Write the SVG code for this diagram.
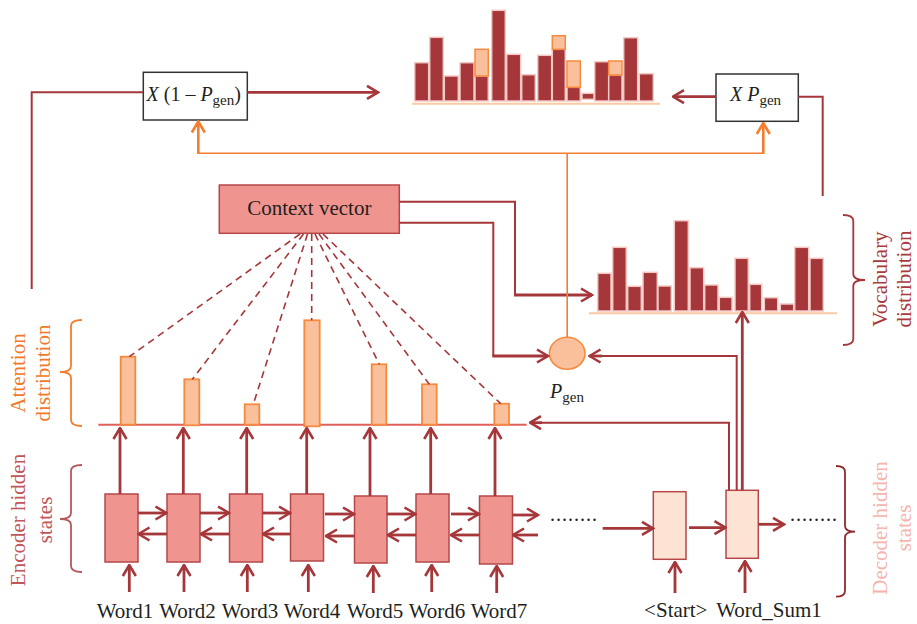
<svg xmlns="http://www.w3.org/2000/svg" width="917" height="624" viewBox="0 0 917 624">
  <defs>
    <style>
      .txt { font-family: "Liberation Serif", "Times New Roman", serif; fill: #231f20; }
      .it { font-style: italic; }
      .bar { fill: #a5363a; stroke: #f4c9c4; stroke-width: 1.5; }
      .hi { fill: #f9c09b; stroke: #f58a3e; stroke-width: 1.5; }
      .att { fill: #f9c09b; stroke: #f58a3e; stroke-width: 1.8; }
      .enc { fill: #f0948f; stroke: #b5474a; stroke-width: 1.5; }
      .dec { fill: #fde3d3; stroke: #b5474a; stroke-width: 1.5; }
      .op { fill: #ffffff; stroke: #333333; stroke-width: 1.5; }
      .red { fill: none; stroke: #a5373a; stroke-width: 2.8; }
      .thin { fill: none; stroke: #a5373a; stroke-width: 2; }
      .org { fill: none; stroke: #f47d30; stroke-width: 2.6; }
      .orgthin { fill: none; stroke: #f47d30; stroke-width: 1.6; }
      .dash { fill: none; stroke: #a5373a; stroke-width: 1.6; stroke-dasharray: 7 5; }
      .brace { fill: none; stroke-width: 1.8; }
    </style>
    <marker id="ar" viewBox="0 0 14 16" refX="12.5" refY="8" markerWidth="14" markerHeight="16" markerUnits="userSpaceOnUse" orient="auto">
      <path d="M1.5,1.5 L12.5,8 L1.5,14.5" fill="none" stroke="#a5373a" stroke-width="2.6"/>
    </marker>
    <marker id="ao" viewBox="0 0 14 16" refX="12.5" refY="8" markerWidth="14" markerHeight="16" markerUnits="userSpaceOnUse" orient="auto">
      <path d="M1.5,1.5 L12.5,8 L1.5,14.5" fill="none" stroke="#f47d30" stroke-width="2.6"/>
    </marker>
  </defs>

  <rect width="917" height="624" fill="#ffffff"/>

  <!-- Final distribution (top) -->
  <g id="final-distribution">
    <line x1="412" y1="103.7" x2="660" y2="103.7" stroke="#fbc9a4" stroke-width="2"/>
    <rect class="bar" x="414.7" y="62.7" width="14" height="38.3"/>
    <rect class="bar" x="429.7" y="37.3" width="13.6" height="63.7"/>
    <rect class="bar" x="444.3" y="76" width="14" height="25"/>
    <rect class="bar" x="460" y="62.7" width="14" height="38.3"/>
    <rect class="bar" x="475" y="76" width="13.3" height="25"/>
    <rect class="hi" x="475" y="49.3" width="13.3" height="26.7"/>
    <rect class="bar" x="491.7" y="10.3" width="13.6" height="90.7"/>
    <rect class="bar" x="506.7" y="54.3" width="14" height="46.7"/>
    <rect class="bar" x="521.7" y="74.7" width="13.6" height="26.3"/>
    <rect class="bar" x="537.7" y="55.3" width="14" height="45.7"/>
    <rect class="bar" x="552.3" y="49.3" width="13" height="51.7"/>
    <rect class="hi" x="552.3" y="35.7" width="13" height="13.6"/>
    <rect class="bar" x="567" y="87.3" width="13.3" height="13.7"/>
    <rect class="hi" x="567" y="61" width="13.3" height="26.3"/>
    <rect class="bar" x="582" y="93.3" width="12" height="6"/>
    <rect class="bar" x="594.7" y="61.7" width="14" height="39.3"/>
    <rect class="bar" x="608.7" y="75" width="13.3" height="26"/>
    <rect class="hi" x="608.7" y="61" width="13.3" height="14"/>
    <rect class="bar" x="623.7" y="37.7" width="14" height="63.3"/>
    <rect class="bar" x="639.3" y="73.7" width="14" height="27.3"/>
  </g>

  <!-- Vocabulary distribution -->
  <g id="vocabulary-distribution">
    <line x1="589" y1="313.3" x2="837" y2="313.3" stroke="#fbc9a4" stroke-width="2"/>
    <rect class="bar" x="597.7" y="273.3" width="13.3" height="37.7"/>
    <rect class="bar" x="612.7" y="247.3" width="13.6" height="63.7"/>
    <rect class="bar" x="627.7" y="286.3" width="13.6" height="24.7"/>
    <rect class="bar" x="643" y="272.3" width="14.3" height="38.7"/>
    <rect class="bar" x="658" y="286" width="13.3" height="25"/>
    <rect class="bar" x="674.3" y="220.7" width="14" height="90.3"/>
    <rect class="bar" x="690" y="267.7" width="13.7" height="43.3"/>
    <rect class="bar" x="704.7" y="285" width="13.3" height="26"/>
    <rect class="bar" x="719.3" y="297.3" width="12.7" height="13.7"/>
    <rect class="bar" x="735" y="258.3" width="13.3" height="52.7"/>
    <rect class="bar" x="749.7" y="284.3" width="12" height="26.7"/>
    <rect class="bar" x="764.3" y="297.7" width="13.4" height="13.3"/>
    <rect class="bar" x="780.3" y="304" width="13.4" height="7"/>
    <rect class="bar" x="794.7" y="247.3" width="14" height="63.7"/>
    <rect class="bar" x="810" y="258.3" width="13.3" height="52.7"/>
  </g>

  <!-- Multiplier boxes -->
  <g id="mul-one-minus-pgen">
    <rect class="op" x="143.3" y="72.3" width="104" height="47.7"/>
    <text class="txt" x="146.5" y="101" font-size="20"><tspan class="it">X</tspan> (1 – <tspan class="it">P</tspan><tspan font-size="15" dy="4">gen</tspan><tspan dy="-4">)</tspan></text>
  </g>
  <g id="mul-pgen">
    <rect class="op" x="716" y="74" width="82.3" height="47.3"/>
    <text class="txt" x="730" y="100.5" font-size="20"><tspan class="it">X P</tspan><tspan font-size="15" dy="4">gen</tspan></text>
  </g>

  <!-- Context vector -->
  <g id="context-vector">
    <rect class="enc" x="219.3" y="185" width="180" height="48.3"/>
    <text class="txt" x="309.3" y="214.5" font-size="21" text-anchor="middle">Context vector</text>
  </g>

  <!-- Pgen switch -->
  <g id="pgen">
    <ellipse cx="567.2" cy="353.3" rx="17.8" ry="16" fill="#f9c09b" stroke="#f58a3e" stroke-width="1.6"/>
    <text class="txt" x="550" y="398" font-size="20"><tspan class="it">P</tspan><tspan font-size="15" dy="4">gen</tspan></text>
  </g>

  <!-- Attention distribution -->
  <g id="attention-distribution">
    <line x1="98.3" y1="424.7" x2="526.7" y2="424.7" stroke="#e0615a" stroke-width="2"/>
    <rect class="att" x="120.7" y="356.7" width="14.6" height="68"/>
    <rect class="att" x="184.3" y="379.3" width="15" height="46"/>
    <rect class="att" x="244.7" y="404.3" width="14.6" height="20.4"/>
    <rect class="att" x="304.3" y="320.3" width="15.4" height="106"/>
    <rect class="att" x="371.7" y="364.3" width="14.6" height="60.4"/>
    <rect class="att" x="422" y="384.3" width="14.7" height="40.4"/>
    <rect class="att" x="494.3" y="403.7" width="14.7" height="21"/>
  </g>

  <!-- Encoder hidden states -->
  <g id="encoder-1"><rect class="enc" x="105" y="494" width="33" height="68"/></g>
  <g id="encoder-2"><rect class="enc" x="167" y="494" width="33" height="68"/></g>
  <g id="encoder-3"><rect class="enc" x="229.5" y="494" width="33" height="68"/></g>
  <g id="encoder-4"><rect class="enc" x="290.5" y="494" width="33" height="67"/></g>
  <g id="encoder-5"><rect class="enc" x="354.5" y="496" width="32.5" height="67"/></g>
  <g id="encoder-6"><rect class="enc" x="416" y="494" width="33" height="68"/></g>
  <g id="encoder-7"><rect class="enc" x="479.5" y="496" width="33" height="68"/></g>

  <!-- Decoder hidden states -->
  <g id="decoder-start"><rect class="dec" x="653.3" y="491.7" width="32.7" height="67.6"/></g>
  <g id="decoder-word-sum1"><rect class="dec" x="726" y="490.3" width="32.3" height="68"/></g>

  <!-- Connectors -->
  <g id="connectors">
    <!-- attention weights from context vector -->
    <path class="dash" d="M300,234 L129.3,356.7"/>
    <path class="dash" d="M303.5,234 L192.3,379.3"/>
    <path class="dash" d="M307.5,234 L253.3,404.3"/>
    <path class="dash" d="M311.7,234 L311.7,320.3"/>
    <path class="dash" d="M315,234 L379.3,364.3"/>
    <path class="dash" d="M319,234 L429.3,384.3"/>
    <path class="dash" d="M323,234 L500.7,403.7"/>

    <!-- context vector to vocabulary distribution and Pgen -->
    <path class="thin" d="M399.3,201.7 H515 V295"/>
    <path class="red" d="M514,295 H592" marker-end="url(#ar)"/>
    <path class="thin" d="M399.3,222.7 H493.3 V356"/>
    <path class="red" d="M492.3,356 H548" marker-end="url(#ar)"/>

    <!-- final distribution inputs -->
    <path class="thin" d="M31.7,289 V92.3 H143.3"/>
    <path class="red" d="M247.3,92.3 H378" marker-end="url(#ar)"/>
    <path class="red" d="M716,96.7 H673" marker-end="url(#ar)"/>
    <path class="thin" d="M798.3,96.7 H822.7 V196"/>

    <!-- Pgen fan-out -->
    <path class="orgthin" d="M567.2,337.3 V153.3"/>
    <path class="orgthin" d="M198.3,153.3 H763.3"/>
    <path class="org" d="M198.3,154 V121.5" marker-end="url(#ao)"/>
    <path class="org" d="M763.3,154 V123" marker-end="url(#ao)"/>

    <!-- decoder state outputs -->
    <path class="thin" d="M729,490.3 V422.7 H540"/>
    <path class="red" d="M542,422.7 H530" marker-end="url(#ar)"/>
    <path class="thin" d="M736.7,490.3 V356 H600"/>
    <path class="red" d="M602,356 H589.5" marker-end="url(#ar)"/>
    <path class="red" d="M742.3,490.3 V312" marker-end="url(#ar)"/>

    <!-- encoder outputs to attention -->
    <path class="red" d="M120,494 V428" marker-end="url(#ar)"/>
    <path class="red" d="M183.3,494 V428" marker-end="url(#ar)"/>
    <path class="red" d="M246.7,494 V428" marker-end="url(#ar)"/>
    <path class="red" d="M306.7,494 V428" marker-end="url(#ar)"/>
    <path class="red" d="M370,496 V428" marker-end="url(#ar)"/>
    <path class="red" d="M430.7,494 V428" marker-end="url(#ar)"/>
    <path class="red" d="M495,496 V428" marker-end="url(#ar)"/>

    <!-- word inputs -->
    <path class="red" d="M129.3,592 V565" marker-end="url(#ar)"/>
    <path class="red" d="M184,592 V565" marker-end="url(#ar)"/>
    <path class="red" d="M247.3,592 V565" marker-end="url(#ar)"/>
    <path class="red" d="M308.3,592 V565" marker-end="url(#ar)"/>
    <path class="red" d="M373.3,593 V566" marker-end="url(#ar)"/>
    <path class="red" d="M431.7,592 V565" marker-end="url(#ar)"/>
    <path class="red" d="M496.7,593 V566" marker-end="url(#ar)"/>
    <path class="red" d="M675,593 V562" marker-end="url(#ar)"/>
    <path class="red" d="M745,593 V561" marker-end="url(#ar)"/>

    <!-- forward recurrence -->
    <path class="red" d="M138,513 H166.5" marker-end="url(#ar)"/>
    <path class="red" d="M200,513 H229" marker-end="url(#ar)"/>
    <path class="red" d="M262.5,513 H290" marker-end="url(#ar)"/>
    <path class="red" d="M325,514 H354" marker-end="url(#ar)"/>
    <path class="red" d="M387,514 H415.5" marker-end="url(#ar)"/>
    <path class="red" d="M451,514 H479" marker-end="url(#ar)"/>
    <path class="red" d="M512.5,515 H538" marker-end="url(#ar)"/>

    <!-- backward recurrence -->
    <path class="red" d="M167,534 H138.5" marker-end="url(#ar)"/>
    <path class="red" d="M229.5,534 H201" marker-end="url(#ar)"/>
    <path class="red" d="M290.5,534 H263" marker-end="url(#ar)"/>
    <path class="red" d="M354.5,536 H326" marker-end="url(#ar)"/>
    <path class="red" d="M416,535 H388" marker-end="url(#ar)"/>
    <path class="red" d="M479.5,535 H451" marker-end="url(#ar)"/>
    <path class="red" d="M538,535 H513" marker-end="url(#ar)"/>

    <!-- decoder recurrence -->
    <path class="red" d="M602.7,528.3 H653" marker-end="url(#ar)"/>
    <path class="red" d="M689,527.7 H725.5" marker-end="url(#ar)"/>
    <path class="red" d="M758.3,524.3 H784" marker-end="url(#ar)"/>
  </g>

  <!-- Continuation dots -->
  <text class="txt" x="550" y="521" font-size="20" letter-spacing="1">........</text>
  <text class="txt" x="790" y="521" font-size="20" letter-spacing="1">........</text>

  <!-- Input word labels -->
  <g font-size="21" text-anchor="middle">
    <text class="txt" x="125" y="618">Word1</text>
    <text class="txt" x="187.5" y="618">Word2</text>
    <text class="txt" x="250" y="618">Word3</text>
    <text class="txt" x="312" y="618">Word4</text>
    <text class="txt" x="375" y="618">Word5</text>
    <text class="txt" x="437" y="618">Word6</text>
    <text class="txt" x="499" y="618">Word7</text>
    <text class="txt" x="675.8" y="617">&lt;Start&gt;</text>
    <text class="txt" x="769" y="617">Word_Sum1</text>
  </g>

  <!-- Braces -->
  <path class="brace" stroke="#f47d30" d="M82,320 Q71,320 71,326 V366 Q71,372 60,372 Q71,372 71,378 V420 Q71,426 82,426"/>
  <path class="brace" stroke="#b5585c" d="M82,465 Q71,465 71,471 V513 Q71,519 60,519 Q71,519 71,525 V566 Q71,572 82,572"/>
  <path class="brace" stroke="#a5373a" d="M843,215 Q853.3,215 853.3,221 V274 Q853.3,280 865,280 Q853.3,280 853.3,286 V339 Q853.3,345 843,345"/>
  <path class="brace" stroke="#8e2a2e" d="M836,466 Q845,466 845,472 V525.7 Q845,531.7 855,531.7 Q845,531.7 845,537.7 V590.7 Q845,596.7 836,596.7"/>

  <!-- Side labels -->
  <g font-family="Liberation Serif, Times New Roman, serif" font-size="21" text-anchor="middle">
    <text fill="#f07a2a" transform="translate(25,373) rotate(-90)">Attention</text>
    <text fill="#f07a2a" transform="translate(50,373) rotate(-90)">distribution</text>
    <text fill="#c0565a" transform="translate(25,520) rotate(-90)">Encoder hidden</text>
    <text fill="#c0565a" transform="translate(52,520) rotate(-90)">states</text>
    <text fill="#a93a3e" transform="translate(887,279) rotate(-90)">Vocabulary</text>
    <text fill="#a93a3e" transform="translate(911,279) rotate(-90)">distribution</text>
    <text fill="#f5b4ae" transform="translate(887,528) rotate(-90)">Decoder hidden</text>
    <text fill="#f5b4ae" transform="translate(911,528) rotate(-90)">states</text>
  </g>
</svg>
